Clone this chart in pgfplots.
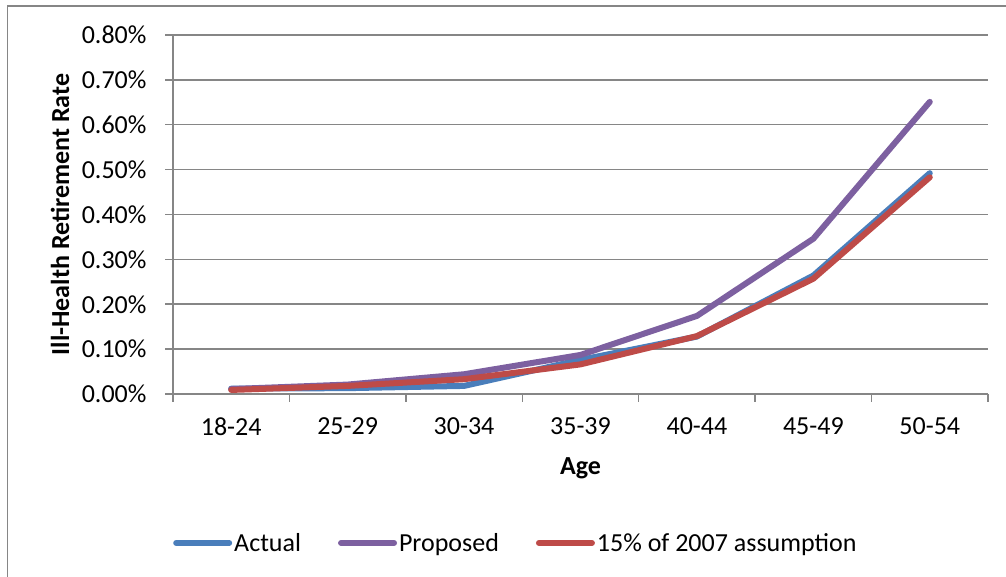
\documentclass[border=0pt]{standalone}
\usepackage{fontspec}
\setmainfont{Carlito}
\usepackage{pgfplots}
\pgfplotsset{compat=1.18}

\definecolor{gridgray}{HTML}{868686}
\definecolor{actualblue}{HTML}{4A7EBB}
\definecolor{proposedpurple}{HTML}{7D60A0}
\definecolor{assumpred}{HTML}{BE4B48}

\begin{document}
\begin{tikzpicture}[x=1bp,y=1bp]
\useasboundingbox (0,0) rectangle (1006,577);
% chart frame (left and top edges)
\draw[gridgray, line width=1.5bp] (7.5,0) -- (7.5,571) -- (1006,571);
\begin{axis}[
  at={(173bp,183bp)}, anchor=south west,
  scale only axis,
  width=815bp, height=359bp,
  font=\fontsize{26bp}{31bp}\selectfont,
  xmin=-0.5, xmax=6.5,
  ymin=0, ymax=0.8,
  axis x line*=bottom, axis y line*=left,
  axis line style={gridgray, line width=1.5bp, -},
  xtick={-0.5,0.5,...,6.5},
  x tick label as interval,
  xticklabels={18-24,25-29,30-34,35-39,40-44,45-49,50-54},
  ytick={0,0.1,...,0.8},
  yticklabel={\pgfmathprintnumber[fixed,fixed zerofill,precision=2,assume math mode=true]{\tick}\%},
  tick align=outside,
  major tick length=8bp,
  tick style={gridgray, line width=1.5bp},
  ymajorgrids,
  major grid style={gridgray, line width=1.5bp},
  xticklabel style={yshift=-12bp},
  yticklabel style={xshift=-15bp},
  xlabel={\textbf{Age}},
  ylabel={\textbf{Ill-Health Retirement Rate}},
  every axis x label/.style={at={(axis description cs:0.5,-0.206)}, anchor=center},
  every axis y label/.style={at={(axis description cs:-0.1387,0.5)}, anchor=center, rotate=90},
  legend columns=3,
  legend style={at={(axis description cs:0,-0.415)}, anchor=west, draw=none, fill=none,
    inner sep=0pt, nodes={inner sep=2bp},
    /tikz/every even column/.append style={column sep=35bp}},
  legend image code/.code={\draw[#1, line cap=round] (0bp,0bp) -- (53bp,0bp);},
]
\addplot[actualblue, line width=6bp, line cap=round, line join=round]
  coordinates {(0,0.012) (1,0.013) (2,0.018) (3,0.076) (4,0.128) (5,0.264) (6,0.492)};
\addlegendentry{Actual}
\addplot[proposedpurple, line width=6bp, line cap=round, line join=round]
  coordinates {(0,0.011) (1,0.021) (2,0.044) (3,0.087) (4,0.174) (5,0.346) (6,0.651)};
\addlegendentry{Proposed}
\addplot[assumpred, line width=6bp, line cap=round, line join=round]
  coordinates {(0,0.009) (1,0.018) (2,0.033) (3,0.066) (4,0.129) (5,0.257) (6,0.483)};
\addlegendentry{15\% of 2007 assumption}
\end{axis}
\end{tikzpicture}
\end{document}
